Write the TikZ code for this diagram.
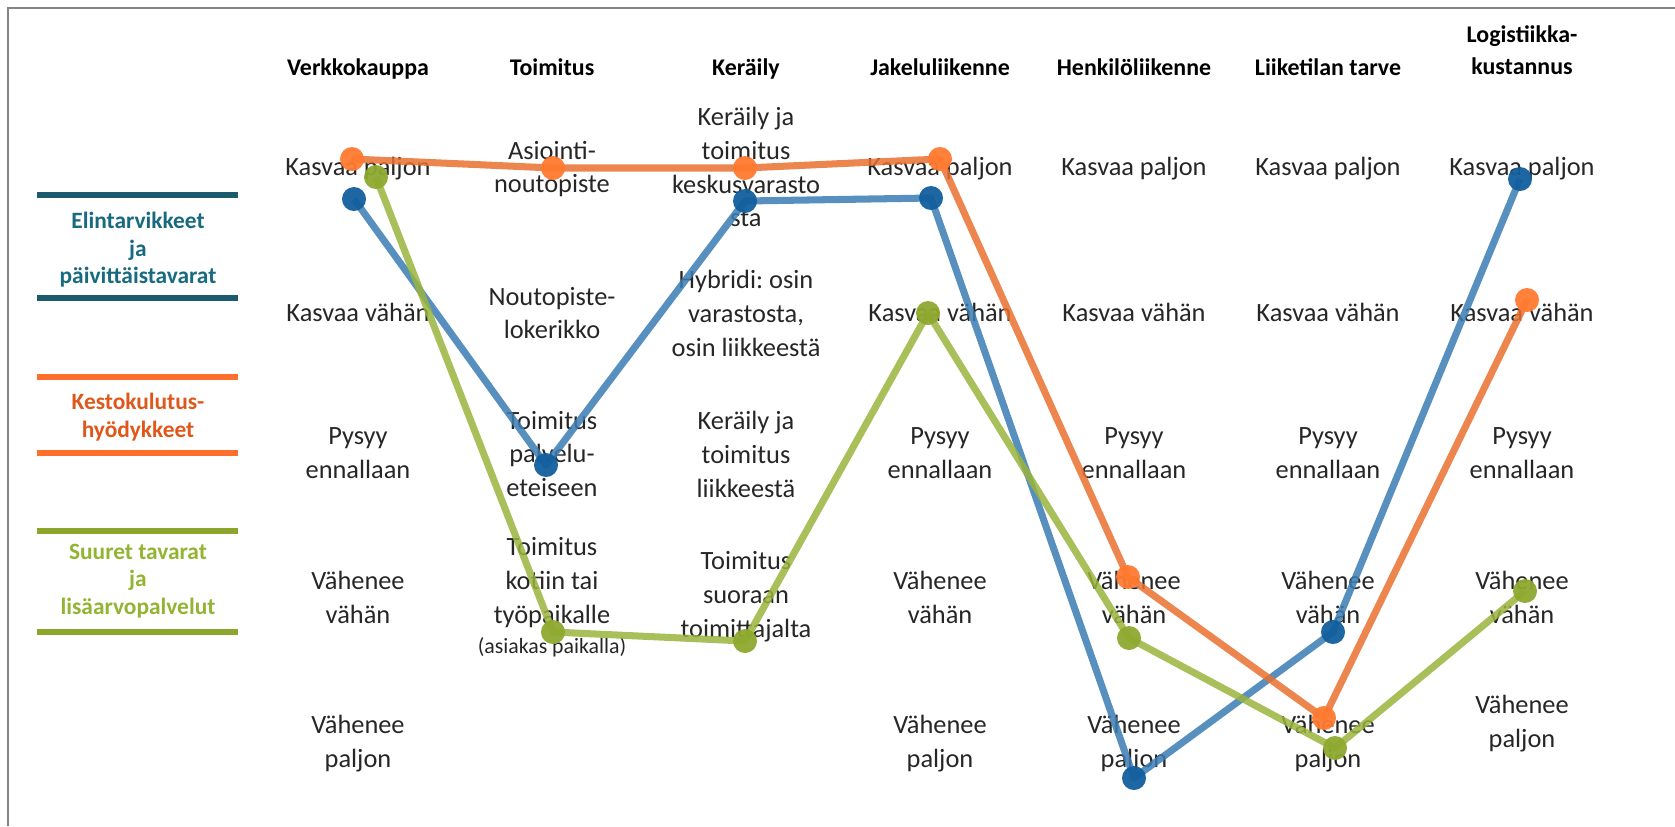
\documentclass[tikz,border=0pt]{standalone}
\usepackage{fontspec}
\setmainfont{Carlito}
\usepackage{tikz}
\frenchspacing

\definecolor{lineblue}{HTML}{3A7CB3}
\definecolor{dotblue}{HTML}{125F9E}
\definecolor{lineorange}{HTML}{E9702F}
\definecolor{dotorange}{HTML}{FF7A30}
\definecolor{linegreen}{HTML}{9AB43C}
\definecolor{dotgreen}{HTML}{8EA92F}
\definecolor{legteal}{HTML}{1A5B6E}
\definecolor{legtealtext}{HTML}{176A80}
\definecolor{legorange}{HTML}{FF6E2A}
\definecolor{legorangetext}{HTML}{E0571B}
\definecolor{leggreen}{HTML}{8CA52B}
\definecolor{leggreentext}{HTML}{92B432}
\definecolor{framegrey}{HTML}{858585}

\tikzset{
    lbl/.style={align=center, inner sep=0pt, text=black!85, font=\fontsize{7.5}{9.65}\selectfont},
    head/.style={align=center, inner sep=0pt, font=\fontsize{6.8}{9.1}\selectfont\bfseries},
    legtext/.style={align=center, inner sep=0pt, font=\fontsize{6.65}{7.8}\selectfont\bfseries},
    serline/.style={line width=2pt, opacity=0.85, line join=round},
    dot/.style={circle, minimum size=0.24cm, inner sep=0pt, opacity=0.95},
    legline/.style={line width=1.8pt},
}

\begin{document}
\begin{tikzpicture}[x=0.01cm, y=-0.01cm]
    \useasboundingbox (0,0) rectangle (1675,826);
    \draw [framegrey, line width=0.7pt] (8,826) -- (8,8) -- (1675,8);

    \foreach \c/\x/\t in {1/358/Verkkokauppa, 2/552/Toimitus, 3/746/Keräily,
                          4/940/Jakeluliikenne, 5/1134/Henkilöliikenne, 6/1328/Liiketilan tarve} {
        \node [head, anchor=base] (head\c) at (\x,75) {\t};
    }
    \node [head, anchor=south] (head7) at (1522,75) {Logistiikka-\\kustannus};

    \foreach \c/\x/\d in {1/358/0, 4/940/0, 5/1134/0, 6/1328/0, 7/1522/20} {
        \foreach \r/\y/\t in {1/169/Kasvaa paljon, 2/312/Kasvaa vähän, 3/453/Pysyy\\ennallaan,
                              4/597/Vähenee\\vähän, 5/744/Vähenee\\paljon} {
            \node [lbl] (lab-\c-\r) at (\x, {\y-(\r==5)*\d}) {\t};
        }
    }

    \node [lbl] (lab-2-1) at (552,169) {Asiointi-\\noutopiste};
    \node [lbl] (lab-2-2) at (552,313) {Noutopiste-\\lokerikko};
    \node [lbl] (lab-2-3) at (552,454) {Toimitus\\palvelu-\\eteiseen};
    \node [lbl] (lab-2-4) at (552,597) {Toimitus\\kotiin tai\\työpaikalle\\[-1pt]{\fontsize{6.2}{7.4}\selectfont(asiakas paikalla)}};
    \node [lbl] (lab-3-1) at (746,167) {Keräily ja\\toimitus\\keskusvarasto\\sta};
    \node [lbl] (lab-3-2) at (746,313) {Hybridi: osin\\varastosta,\\osin liikkeestä};
    \node [lbl] (lab-3-3) at (746,454) {Keräily ja\\toimitus\\liikkeestä};
    \node [lbl] (lab-3-4) at (746,597) {Toimitus\\suoraan\\toimittajalta};

    \draw [legline, legteal] (37,195) -- (238,195) (37,298) -- (238,298);
    \node [legtext, legtealtext] (legA) at (138,250) {Elintarvikkeet\\ja\\päivittäistavarat};
    \draw [legline, legorange] (37,377) -- (238,377) (37,453) -- (238,453);
    \node [legtext, legorangetext] (legB) at (138,417) {Kestokulutus-\\hyödykkeet};
    \draw [legline, leggreen] (37,531) -- (238,531) (37,632) -- (238,632);
    \node [legtext, leggreentext] (legC) at (138,581) {Suuret tavarat\\ja\\lisäarvopalvelut};

    \foreach [count=\i] \x/\y in {354/199, 546/465, 745/201, 931/198, 1134/778, 1333/632, 1520/179}
        \coordinate (b\i) at (\x,\y);
    \foreach [count=\i] \x/\y in {352/159, 553/168, 745/168, 940/159, 1128/577, 1324/718, 1527/300}
        \coordinate (o\i) at (\x,\y);
    \foreach [count=\i] \x/\y in {376/177, 553/632, 745/641, 928/313, 1129/638, 1335/748, 1525/591}
        \coordinate (g\i) at (\x,\y);

    \draw [serline, lineblue] (b1) -- (b2) -- (b3) -- (b4) -- (b5) -- (b6) -- (b7);
    \draw [serline, lineorange] (o1) -- (o2) -- (o3) -- (o4) -- (o5) -- (o6) -- (o7);
    \draw [serline, linegreen] (g1) -- (g2) -- (g3) -- (g4) -- (g5) -- (g6) -- (g7);

    \foreach \s/\col in {b/dotblue, o/dotorange, g/dotgreen} {
        \foreach \i in {1,...,7} {
            \node [dot, fill=\col] (\s dot\i) at (\s\i) {};
        }
    }
\end{tikzpicture}
\end{document}
